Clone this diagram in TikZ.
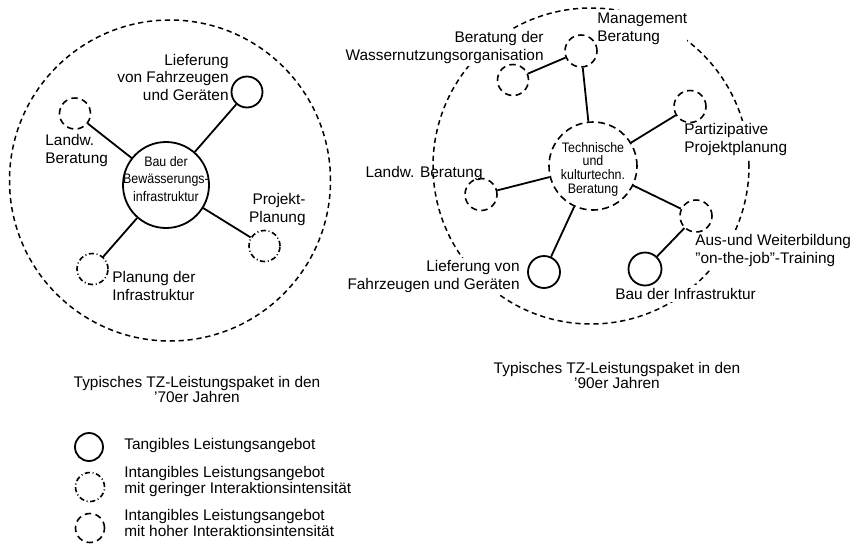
\documentclass[tikz,border=0pt]{standalone}
\usepackage{fontspec}
\setmainfont{Liberation Sans}
\newfontfamily\hubfont[FakeStretch=0.9]{Liberation Sans}

\tikzset{
  lbl/.style={inner sep=0pt, font=\fontsize{7.7pt}{8.7pt}\selectfont},
  captxt/.style={inner sep=0pt, font=\fontsize{7.7pt}{7.2pt}\selectfont},
  legtxt/.style={inner sep=0pt, font=\fontsize{7.7pt}{7.6pt}\selectfont},
  hubtxt/.style={inner sep=0pt, align=center, anchor=base},
  mask/.style={fill=white, inner xsep=0pt, inner ysep=1.3pt},
  tangible/.style={circle, draw, line width=0.9pt, inner sep=0pt, minimum size=#1},
  highint/.style={circle, draw, line width=0.8pt, dash pattern=on 3.2pt off 2.2pt,
                  inner sep=0pt, minimum size=#1},
  lowint/.style={circle, draw, line width=0.8pt,
                 dash pattern=on 2.6pt off 1.3pt on 0.5pt off 1.3pt,
                 inner sep=0pt, minimum size=#1},
  package/.style={circle, draw, line width=0.75pt, dash pattern=on 2.6pt off 1.9pt,
                  inner sep=0pt, minimum size=#1},
  spoke/.style={line width=0.9pt},
}

\begin{document}
\begin{tikzpicture}[x=0.5pt, y=-0.5pt]
  \fill[white] (0,0) rectangle (858,547);
  \useasboundingbox (0,0) rectangle (858,547);

  % ---------- package of the seventies ----------
  % (multi-line labels are placed by the baseline of their last line)
  \node[package=160.5pt] (pk70) at (170,180.5) {};

  \node[tangible=43pt] (bau70) at (166,185) {};
  \node[hubtxt, font=\hubfont\fontsize{6.9pt}{8.7pt}\selectfont] (bau70t) at (166,201)
       {Bau der\\Bewässerungs-\\infrastruktur};

  \node[tangible=15.5pt] (lief70) at (247,92) {};
  \node[highint=15.5pt] (landw70) at (75,113.5) {};
  \node[lowint=15.5pt] (proj70) at (264.5,246) {};
  \node[lowint=15.5pt] (plan70) at (92.5,269) {};

  \draw[spoke] (bau70) -- (lief70);
  \draw[spoke] (bau70) -- (landw70);
  \draw[spoke] (bau70) -- (proj70);
  \draw[spoke] (bau70) -- (plan70);

  \node[lbl, align=right, anchor=base east] (lief70t) at (229,100)
       {Lieferung\\von Fahrzeugen\\und Geräten};
  \node[lbl, align=left, anchor=base west] (landw70t) at (45,163) {Landw.\\Beratung};
  \node[lbl, align=right, anchor=base east] (proj70t) at (306,222) {Projekt-\\Planung};
  \node[lbl, align=left, anchor=base west] (plan70t) at (112,300)
       {Planung der\\Infrastruktur};

  \node[captxt, align=center, anchor=base] (cap70) at (197,402)
       {Typisches TZ-Leistungspaket in den\\’70er Jahren};

  % ---------- package of the nineties ----------
  \node[package=158pt] (pk90) at (591,166) {};

  \node[lbl, mask, align=left, anchor=base west] (man90t) at (597,41)
       {Management\\Beratung};
  \node[lbl, mask, align=right, anchor=base east] (was90t) at (544,60)
       {Beratung der\\Wassernutzungsorganisation};
  \node[lbl, mask, align=left, anchor=base west] (part90t) at (684,152)
       {Partizipative\\Projektplanung};
  \node[lbl, align=right, anchor=base east] (landw90t) at (483,177) {Landw. Beratung};
  \node[lbl, mask, align=left, anchor=base west] (aus90t) at (695,263)
       {Aus-und Weiterbildung\\"on-the-job"-Training};
  \node[lbl, mask, align=right, anchor=base east] (lief90t) at (520,289)
       {Lieferung von\\Fahrzeugen und Geräten};
  \node[lbl, mask, anchor=base west] (bau90t) at (615,299) {Bau der Infrastruktur};

  \node[highint=44pt, dash pattern=on 3.5pt off 2.2pt] (tech90) at (593,166) {};
  \node[hubtxt, font=\hubfont\fontsize{6.9pt}{6.8pt}\selectfont] (tech90t) at (593,193)
       {Technische\\und\\kulturtechn.\\Beratung};

  \node[highint=16pt] (man90) at (581,51) {};
  \node[highint=15.5pt] (was90) at (513,80) {};
  \node[highint=16pt] (part90) at (690,106.5) {};
  \node[highint=16pt] (landw90) at (481,194.5) {};
  \node[highint=16pt] (aus90) at (696,216) {};
  \node[tangible=16pt] (lief90) at (544,272) {};
  \node[tangible=16.5pt] (bau90) at (645,269) {};

  \draw[spoke] (tech90) -- (man90);
  \draw[spoke] (man90) -- (was90);
  \draw[spoke] (tech90) -- (part90);
  \draw[spoke] (tech90) -- (landw90);
  \draw[spoke] (tech90) -- (aus90);
  \draw[spoke] (aus90) -- (bau90);
  \draw[spoke] (tech90) -- (lief90);

  \node[captxt, align=center, anchor=base] (cap90) at (617,388)
       {Typisches TZ-Leistungspaket in den\\’90er Jahren};

  % ---------- legend ----------
  \node[tangible=14pt] (key1) at (89,447) {};
  \node[lowint=14.5pt] (key2) at (90,487) {};
  \node[highint=14.5pt] (key3) at (90,528) {};

  \node[legtxt, anchor=base west] (key1t) at (124,449) {Tangibles Leistungsangebot};
  \node[legtxt, align=left, anchor=base west] (key2t) at (124,493)
       {Intangibles Leistungsangebot\\mit geringer Interaktionsintensität};
  \node[legtxt, align=left, anchor=base west] (key3t) at (124,536)
       {Intangibles Leistungsangebot\\mit hoher Interaktionsintensität};
\end{tikzpicture}
\end{document}
